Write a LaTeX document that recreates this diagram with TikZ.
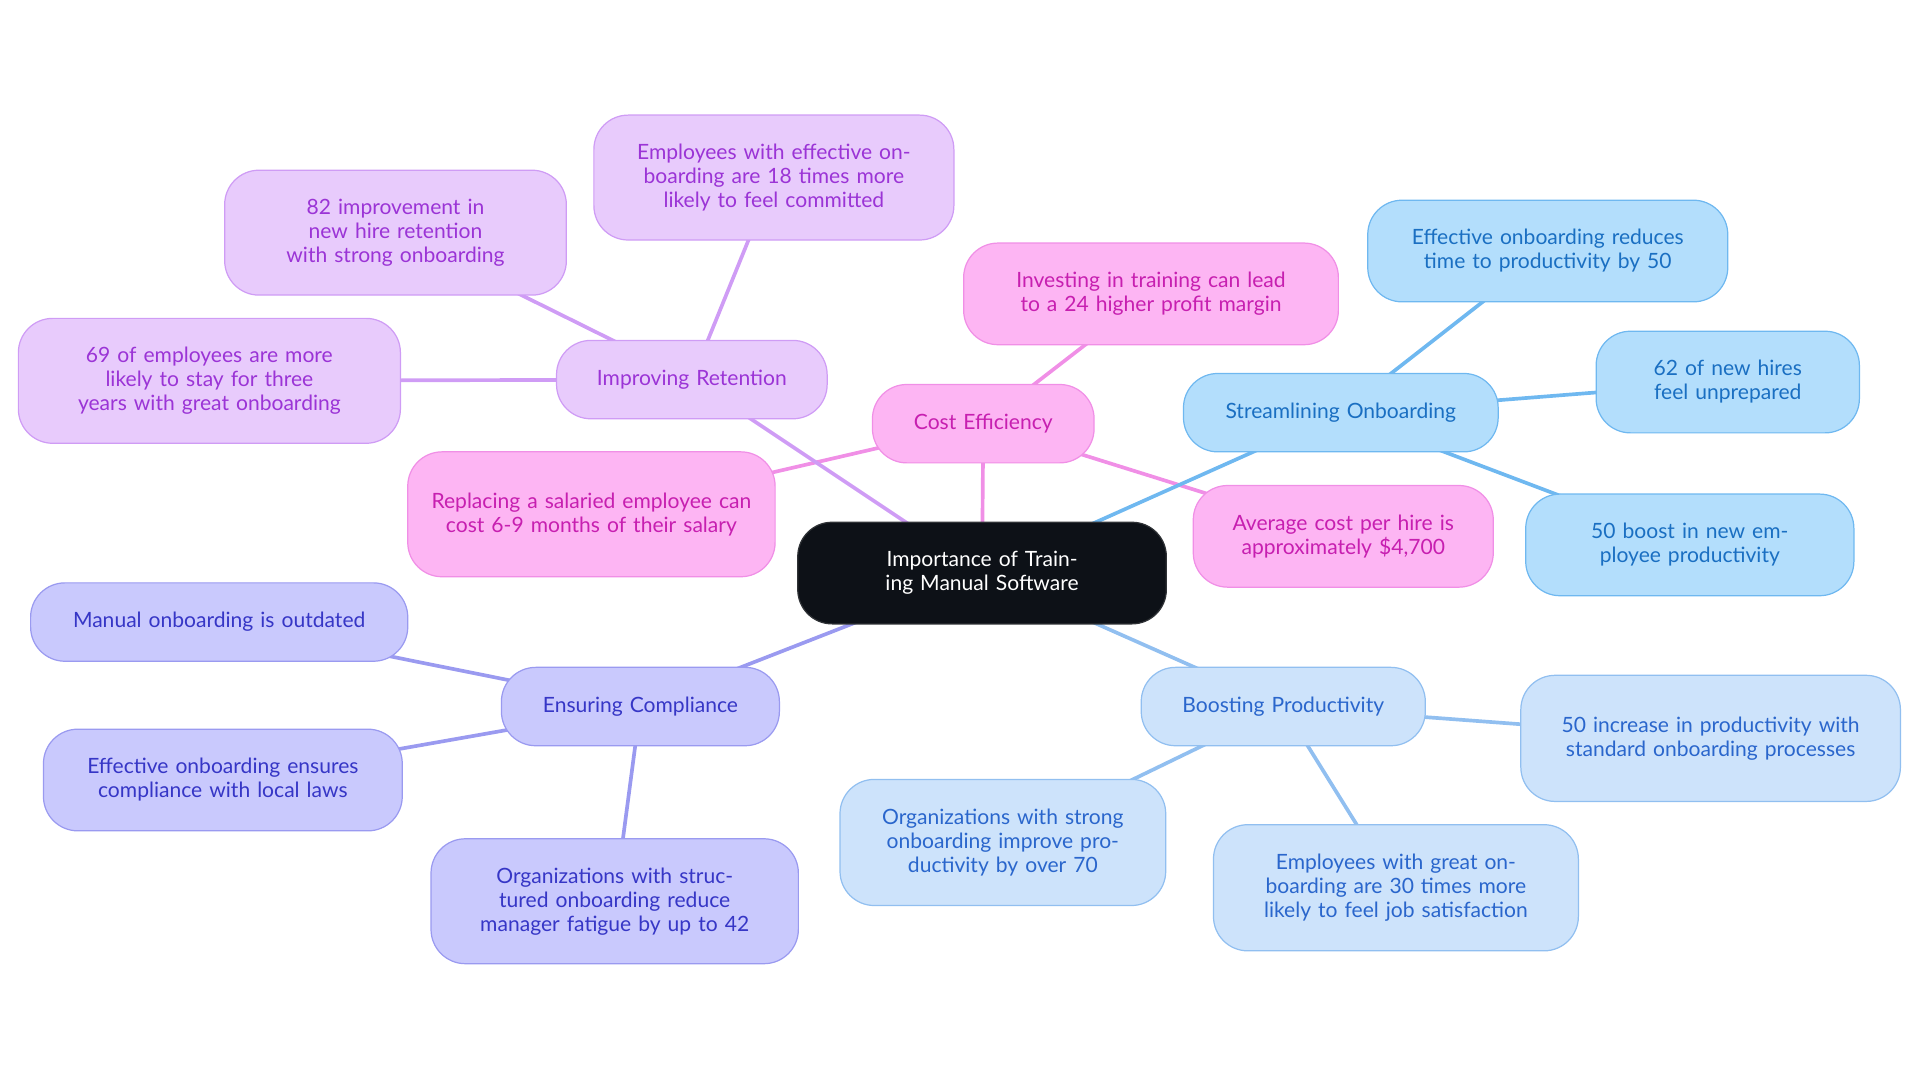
\documentclass[tikz,border=0pt]{standalone}
\usepackage{fontspec}
\setmainfont{Lato}
\usetikzlibrary{backgrounds}
\definecolor{cfill}{HTML}{0D1117}
\definecolor{pkF}{HTML}{FDB5F3}\definecolor{pkT}{HTML}{C71FB0}\definecolor{pkD}{HTML}{F08FE6}
\definecolor{vtF}{HTML}{E8CBFC}\definecolor{vtT}{HTML}{9B34D6}\definecolor{vtD}{HTML}{CF9CF5}
\definecolor{blF}{HTML}{B3DEFC}\definecolor{blT}{HTML}{1A6FC2}\definecolor{blD}{HTML}{6FB8F0}
\definecolor{lbF}{HTML}{CDE3FB}\definecolor{lbT}{HTML}{2A66CC}\definecolor{lbD}{HTML}{91BFF0}
\definecolor{cpF}{HTML}{C9C9FD}\definecolor{cpT}{HTML}{3636C6}\definecolor{cpD}{HTML}{9A9AF0}
\tikzset{
 box/.style={rounded corners=14pt,align=center,font=\fontsize{8.6}{9.8}\selectfont,inner sep=0pt,line width=0.5pt},
 pk/.style={box,fill=pkF,draw=pkD,text=pkT},
 vt/.style={box,fill=vtF,draw=vtD,text=vtT},
 bl/.style={box,fill=blF,draw=blD,text=blT},
 lb/.style={box,fill=lbF,draw=lbD,text=lbT},
 cp/.style={box,fill=cpF,draw=cpD,text=cpT},
 ctr/.style={box,fill=cfill,draw=cfill!70!gray,text=white},
 pkE/.style={draw=pkD,line width=1.5pt},
 vtE/.style={draw=vtD,line width=1.5pt},
 blE/.style={draw=blD,line width=1.5pt},
 lbE/.style={draw=lbD,line width=1.5pt},
 cpE/.style={draw=cpD,line width=1.5pt},
}
\newcommand{\bx}[6]{\node[#1,minimum width=#4*0.5pt,minimum height=#5*0.5pt,text width=#4*0.5pt-18pt] (#2) at #3 {#6};}
\begin{document}
\begin{tikzpicture}[x=0.5pt,y=-0.5pt]
\useasboundingbox (0,0) rectangle (1568,884);
\bx{ctr}{c}{(802,468)}{301}{83}{Importance of Training Manual Software}
\bx{pk}{ce}{(803,346)}{181}{64}{Cost Efficiency}
\bx{pk}{ce1}{(940,240)}{306}{83}{Investing in training can lead to a 24 higher profit margin}
\bx{pk}{ce2}{(483,420)}{300}{102}{Replacing a salaried employee can cost 6-9 months of their salary}
\bx{pk}{ce3}{(1097,438)}{245}{83}{Average cost per hire is approximately \$4,700}
\bx{vt}{ir}{(565,310)}{221}{64}{Improving Retention}
\bx{vt}{ir1}{(632,145)}{294}{102}{Employees with effective onboarding are 18 times more likely to feel committed}
\bx{vt}{ir2}{(323,190)}{279}{102}{82 improvement in new hire retention with strong onboarding}
\bx{vt}{ir3}{(171,311)}{312}{102}{69 of employees are more likely to stay for three years with great onboarding}
\bx{bl}{so}{(1095,337)}{257}{64}{Streamlining Onboarding}
\bx{bl}{so1}{(1264,205)}{294}{83}{Effective onboarding reduces time to productivity by 50}
\bx{bl}{so2}{(1411,312)}{215}{83}{62 of new hires feel unprepared}
\bx{bl}{so3}{(1380,445)}{268}{83}{50 boost in new employee productivity}
\bx{lb}{bp}{(1048,577)}{232}{64}{Boosting Productivity}
\bx{lb}{bp1}{(1397,603)}{310}{103}{50 increase in productivity with standard onboarding processes}
\bx{lb}{bp2}{(819,688)}{266}{103}{Organizations with strong onboarding improve productivity by over 70}
\bx{lb}{bp3}{(1140,725)}{298}{103}{Employees with great onboarding are 30 times more likely to feel job satisfaction}
\bx{cp}{ec}{(523,577)}{227}{64}{Ensuring Compliance}
\bx{cp}{ec1}{(179,508)}{308}{64}{Manual onboarding is outdated}
\bx{cp}{ec2}{(182,637)}{293}{83}{Effective onboarding ensures compliance with local laws}
\bx{cp}{ec3}{(502,736)}{300}{102}{Organizations with structured onboarding reduce manager fatigue by up to 42}
\begin{scope}[on background layer]
\draw[pkE] (c.center)--(ce.center);
\draw[pkE] (ce.center)--(ce1.center);
\draw[pkE] (ce.center)--(ce2.center);
\draw[pkE] (ce.center)--(ce3.center);
\draw[vtE] (c.center)--(ir.center);
\draw[vtE] (ir.center)--(ir1.center);
\draw[vtE] (ir.center)--(ir2.center);
\draw[vtE] (ir.center)--(ir3.center);
\draw[blE] (c.center)--(so.center);
\draw[blE] (so.center)--(so1.center);
\draw[blE] (so.center)--(so2.center);
\draw[blE] (so.center)--(so3.center);
\draw[lbE] (c.center)--(bp.center);
\draw[lbE] (bp.center)--(bp1.center);
\draw[lbE] (bp.center)--(bp2.center);
\draw[lbE] (bp.center)--(bp3.center);
\draw[cpE] (c.center)--(ec.center);
\draw[cpE] (ec.center)--(ec1.center);
\draw[cpE] (ec.center)--(ec2.center);
\draw[cpE] (ec.center)--(ec3.center);
\end{scope}
\end{tikzpicture}
\end{document}
